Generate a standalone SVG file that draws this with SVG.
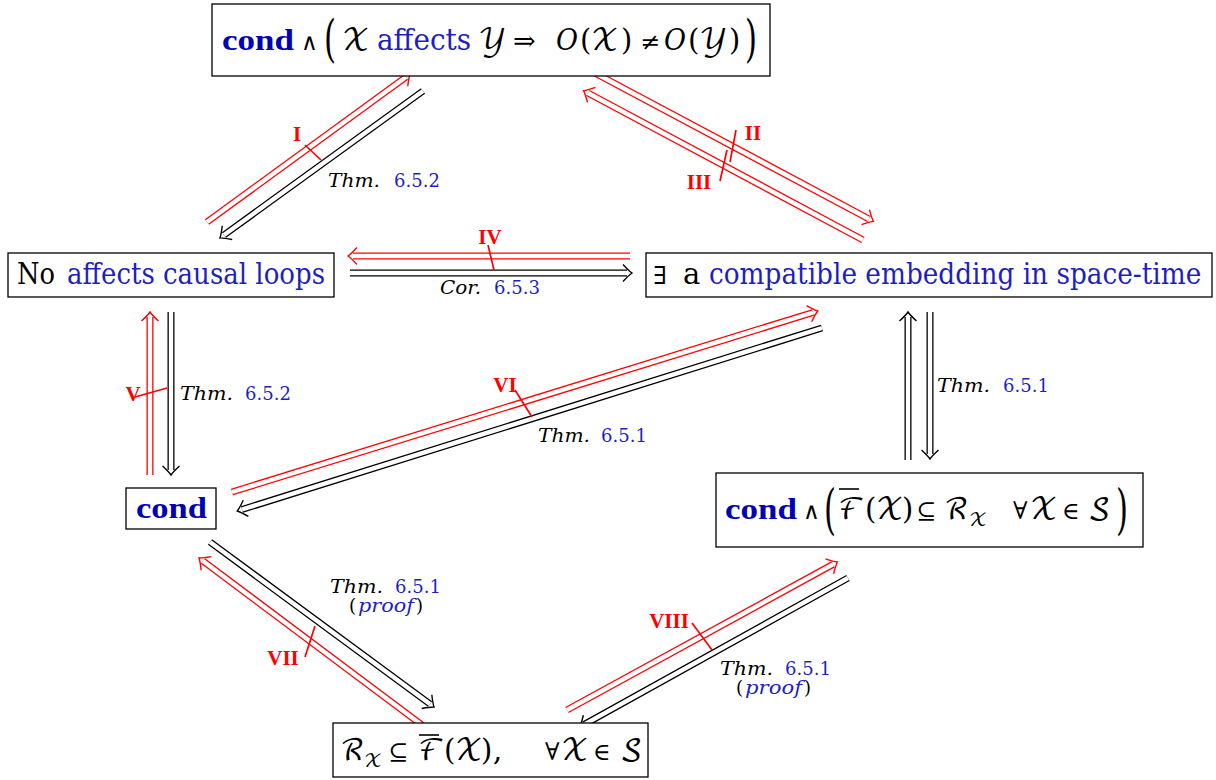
<svg xmlns="http://www.w3.org/2000/svg" width="1216" height="780" viewBox="0 0 1216 780">
<style>
.rm{font-family:"DejaVu Serif",serif;fill:#000}
.bf{font-family:"Liberation Serif",serif;fill:#0000b4;font-weight:bold;font-size:30px}
.t{font-size:29px}
.u{fill:#1f1fbf}
.it{font-style:italic}
.s{font-family:"DejaVu Math TeX Gyre","DejaVu Serif",serif;fill:#000;font-size:29px}
.ss{font-family:"DejaVu Math TeX Gyre","DejaVu Serif",serif;fill:#000;font-size:19px}
.sy{font-family:"DejaVu Serif","DejaVu Sans",serif;fill:#000}
.l{font-size:18px}
.rl{font-family:"Liberation Serif",serif;fill:#f00;font-weight:bold;font-size:21px;text-anchor:middle}
.box{fill:#fff;stroke:#000;stroke-width:1.3}
.o{fill:none;stroke-width:7}
.i{fill:none;stroke:#fff;stroke-width:4.4}
.r .o{stroke:#f00}
.k .o{stroke:#000}
.tk{stroke:#f00;stroke-width:1.7;fill:none}
.ov{stroke:#000;stroke-width:1.6}
</style>
<defs>
<marker id="ahr" markerUnits="userSpaceOnUse" markerWidth="24" markerHeight="24" viewBox="-12 -12 24 24" refX="-5" refY="0" orient="auto" overflow="visible">
<path d="M-9,-8.5 Q-3,-2 0,0 Q-3,2 -9,8.5" fill="none" stroke="#f00" stroke-width="1.4"/>
</marker>
<marker id="ahk" markerUnits="userSpaceOnUse" markerWidth="24" markerHeight="24" viewBox="-12 -12 24 24" refX="-5" refY="0" orient="auto" overflow="visible">
<path d="M-9,-8.5 Q-3,-2 0,0 Q-3,2 -9,8.5" fill="none" stroke="#000" stroke-width="1.4"/>
</marker>
</defs>
<rect width="1216" height="780" fill="#fff"/>

<g id="connectors">
<g class="r"><path class="o" d="M207,222 L406,77"/><path class="i" d="M207,222 L406,77" marker-end="url(#ahr)"/></g>
<g class="k"><path class="o" d="M423,91 L224,235"/><path class="i" d="M423,91 L224,235" marker-end="url(#ahk)"/></g>
<g class="r"><path class="o" d="M593,72 L869,219"/><path class="i" d="M593,72 L869,219" marker-end="url(#ahr)"/></g>
<g class="r"><path class="o" d="M863,240 L588,93"/><path class="i" d="M863,240 L588,93" marker-end="url(#ahr)"/></g>
<g class="r"><path class="o" d="M630,256 L353,256"/><path class="i" d="M630,256 L353,256" marker-end="url(#ahr)"/></g>
<g class="k"><path class="o" d="M350,273 L627,273"/><path class="i" d="M350,273 L627,273" marker-end="url(#ahk)"/></g>
<g class="r"><path class="o" d="M150,475 L150,317"/><path class="i" d="M150,475 L150,317" marker-end="url(#ahr)"/></g>
<g class="k"><path class="o" d="M171,312 L171,470"/><path class="i" d="M171,312 L171,470" marker-end="url(#ahk)"/></g>
<g class="r"><path class="o" d="M232,492 L813,312.5"/><path class="i" d="M232,492 L813,312.5" marker-end="url(#ahr)"/></g>
<g class="k"><path class="o" d="M822,328 L242,509.5"/><path class="i" d="M822,328 L242,509.5" marker-end="url(#ahk)"/></g>
<g class="k"><path class="o" d="M908,460 L908,317"/><path class="i" d="M908,460 L908,317" marker-end="url(#ahk)"/></g>
<g class="k"><path class="o" d="M930,312 L930,454"/><path class="i" d="M930,312 L930,454" marker-end="url(#ahk)"/></g>
<g class="k"><path class="o" d="M210,542 L430,704"/><path class="i" d="M210,542 L430,704" marker-end="url(#ahk)"/></g>
<g class="r"><path class="o" d="M422,725 L203,561"/><path class="i" d="M422,725 L203,561" marker-end="url(#ahr)"/></g>
<g class="r"><path class="o" d="M567,710 L833,564.4"/><path class="i" d="M567,710 L833,564.4" marker-end="url(#ahr)"/></g>
<g class="k"><path class="o" d="M848,578 L584,724.6"/><path class="i" d="M848,578 L584,724.6" marker-end="url(#ahk)"/></g>

<path class="tk" d="M305,145 L321,160"/>
<path class="tk" d="M736,130 L730,162"/>
<path class="tk" d="M727,150 L720,181"/>
<path class="tk" d="M488,245 L494,270"/>
<path class="tk" d="M135,397 L167,388"/>
<path class="tk" d="M515,390 L532,417"/>
<path class="tk" d="M315,626 L305,657"/>
<path class="tk" d="M692,623 L712,650"/>

<text class="rl" x="297" y="141">I</text>
<text class="rl" x="753" y="140">II</text>
<text class="rl" x="699" y="189">III</text>
<text class="rl" x="490" y="244">IV</text>
<text class="rl" x="133" y="401">V</text>
<text class="rl" x="505" y="392">VI</text>
<text class="rl" x="283" y="665">VII</text>
<text class="rl" x="669" y="628">VIII</text>

<text class="rm l it" x="328" y="187" textLength="52" lengthAdjust="spacingAndGlyphs">Thm.</text><text class="rm l u" x="394" y="187" textLength="46" lengthAdjust="spacingAndGlyphs">6.5.2</text>
<text class="rm l it" x="440" y="294" textLength="41" lengthAdjust="spacingAndGlyphs">Cor.</text><text class="rm l u" x="494" y="294" textLength="46" lengthAdjust="spacingAndGlyphs">6.5.3</text>
<text class="rm l it" x="180" y="400" textLength="53" lengthAdjust="spacingAndGlyphs">Thm.</text><text class="rm l u" x="245" y="400" textLength="46" lengthAdjust="spacingAndGlyphs">6.5.2</text>
<text class="rm l it" x="538" y="442" textLength="52" lengthAdjust="spacingAndGlyphs">Thm.</text><text class="rm l u" x="601" y="442" textLength="46" lengthAdjust="spacingAndGlyphs">6.5.1</text>
<text class="rm l it" x="937" y="392" textLength="53" lengthAdjust="spacingAndGlyphs">Thm.</text><text class="rm l u" x="1003" y="392" textLength="46" lengthAdjust="spacingAndGlyphs">6.5.1</text>
<text class="rm l it" x="330" y="593" textLength="53" lengthAdjust="spacingAndGlyphs">Thm.</text><text class="rm l u" x="395" y="593" textLength="46" lengthAdjust="spacingAndGlyphs">6.5.1</text>
<text class="rm l" x="349" y="612">(</text><text class="rm l it u" x="358" y="612" textLength="56" lengthAdjust="spacingAndGlyphs">proof</text><text class="rm l" x="416" y="612">)</text>
<text class="rm l it" x="720" y="675" textLength="53" lengthAdjust="spacingAndGlyphs">Thm.</text><text class="rm l u" x="785" y="675" textLength="46" lengthAdjust="spacingAndGlyphs">6.5.1</text>
<text class="rm l" x="736" y="694">(</text><text class="rm l it u" x="745" y="694" textLength="57" lengthAdjust="spacingAndGlyphs">proof</text><text class="rm l" x="804" y="694">)</text>
</g>

<g id="n-top">
<rect class="box" x="212" y="4" width="558" height="72"/>
<text class="bf" x="222" y="50" textLength="72" lengthAdjust="spacingAndGlyphs">cond</text>
<text class="sy" x="301" y="50" font-size="23">∧</text>
<text class="rm t" transform="translate(324,56) scale(1,1.75)" textLength="12" lengthAdjust="spacingAndGlyphs">(</text>
<text class="s" x="342" y="50">𝒳</text>
<text class="rm t u" x="377" y="50" textLength="94" lengthAdjust="spacingAndGlyphs">affects</text>
<text class="s" x="478" y="50">𝒴</text>
<text class="sy" x="513" y="50" font-size="27">⇒</text>
<text class="rm t it" x="556" y="50" textLength="22" lengthAdjust="spacingAndGlyphs">O</text>
<text class="rm t" x="580" y="50">(</text>
<text class="s" x="591" y="50">𝒳</text>
<text class="rm t" x="621" y="50">)</text>
<text class="sy" x="640" y="50" font-size="24">≠</text>
<text class="rm t it" x="664" y="50" textLength="22" lengthAdjust="spacingAndGlyphs">O</text>
<text class="rm t" x="688" y="50">(</text>
<text class="s" x="699" y="50">𝒴</text>
<text class="rm t" x="729" y="50">)</text>
<text class="rm t" transform="translate(745,56) scale(1,1.75)" textLength="12" lengthAdjust="spacingAndGlyphs">)</text>
</g>

<g id="n-left">
<rect class="box" x="8" y="253" width="326" height="44"/>
<text class="rm t" x="17" y="284" textLength="38" lengthAdjust="spacingAndGlyphs">No</text>
<text class="rm t u" x="67" y="284" textLength="258" lengthAdjust="spacingAndGlyphs">affects causal loops</text>
</g>

<g id="n-right">
<rect class="box" x="646" y="253" width="566" height="44"/>
<text class="sy" x="653" y="284" font-size="25">∃</text>
<text class="rm t" x="683" y="284">a</text>
<text class="rm t u" transform="translate(709,284) scale(0.84,1)" textLength="586" lengthAdjust="spacingAndGlyphs">compatible embedding in space-time</text>
</g>

<g id="n-cond">
<rect class="box" x="126" y="488" width="90" height="41"/>
<text class="bf" x="136" y="518" textLength="71" lengthAdjust="spacingAndGlyphs">cond</text>
</g>

<g id="n-br">
<rect class="box" x="716" y="473" width="427" height="74"/>
<text class="bf" x="725" y="519" textLength="72" lengthAdjust="spacingAndGlyphs">cond</text>
<text class="sy" x="803" y="519" font-size="23">∧</text>
<text class="rm t" transform="translate(824,528) scale(1,1.9)" textLength="12" lengthAdjust="spacingAndGlyphs">(</text>
<text class="s" x="838" y="519">ℱ</text>
<line class="ov" x1="839" y1="489" x2="859" y2="489"/>
<text class="rm t" x="865" y="519">(</text>
<text class="s" x="876" y="519">𝒳</text>
<text class="rm t" x="902" y="519">)</text>
<text class="sy" x="916" y="519" font-size="24">⊆</text>
<text class="s" x="944" y="519">ℛ</text>
<text class="ss" x="969" y="526">𝒳</text>
<text class="sy" x="1013" y="519" font-size="24">∀</text>
<text class="s" x="1030" y="519">𝒳</text>
<text class="sy" x="1062" y="519" font-size="24">∈</text>
<text class="s" x="1088" y="519">𝒮</text>
<text class="rm t" transform="translate(1116,528) scale(1,1.9)" textLength="12" lengthAdjust="spacingAndGlyphs">)</text>
</g>

<g id="n-bottom">
<rect class="box" x="333" y="723" width="315" height="54"/>
<text class="s" x="340" y="760">ℛ</text>
<text class="ss" x="364" y="767">𝒳</text>
<text class="sy" x="388" y="760" font-size="24">⊆</text>
<text class="s" x="418" y="760">ℱ</text>
<line class="ov" x1="419" y1="735" x2="439" y2="735"/>
<text class="rm t" x="444" y="760">(</text>
<text class="s" x="455" y="760">𝒳</text>
<text class="rm t" x="481" y="760">)</text>
<text class="rm t" x="493" y="760">,</text>
<text class="sy" x="545" y="760" font-size="24">∀</text>
<text class="s" x="561" y="760">𝒳</text>
<text class="sy" x="593" y="760" font-size="24">∈</text>
<text class="s" x="620" y="760">𝒮</text>
</g>
</svg>
